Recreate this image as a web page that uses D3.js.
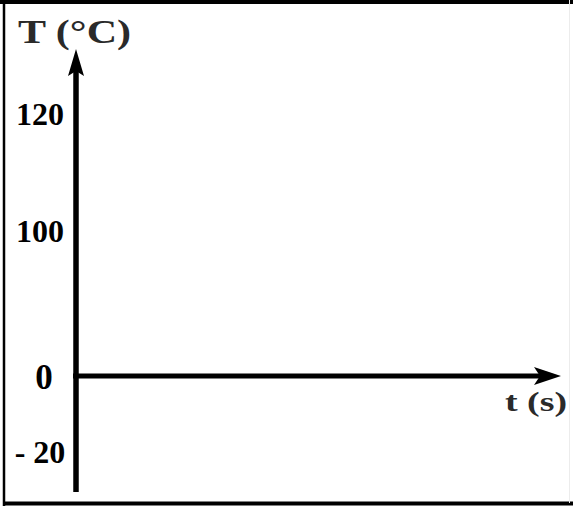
<!DOCTYPE html>
<html>
<head>
<meta charset="utf-8">
<script src="https://cdn.jsdelivr.net/npm/d3@7"></script>
<style>
  html, body { margin: 0; padding: 0; background: #fff; }
  svg { display: block; }
</style>
</head>
<body>
<svg id="chart" width="573" height="509"></svg>
<script>
// ---- data ----
const yTickValues = [-20, 0, 100, 120];
const yTickLabels = ["- 20", "0", "100", "120"];
const yAxisTitle = "T (°C)";
const xAxisTitle = "t (s)";
const yDomainEnds = [-26, 152];   // axis extends slightly below -20 and above 120 (arrow)
const xDomain = [0, 1];

// ---- layout ----
const svg = d3.select("#chart");
const W = 573, H = 509;

// Piecewise (schematic) temperature scale, as drawn in the original sketch
const y = d3.scaleLinear()
  .domain([yDomainEnds[0], -20, 0, 100, 120, yDomainEnds[1]])
  .range([492, 451, 376, 230, 113, 49]);
const x = d3.scaleLinear().domain(xDomain).range([76, 561]);

// frame
svg.append("rect").attr("x", 0).attr("y", 0).attr("width", W).attr("height", H).attr("fill", "#fff");
svg.append("line").attr("x1", 0).attr("x2", W).attr("y1", 2).attr("y2", 2)
  .attr("stroke", "#000").attr("stroke-width", 4);
svg.append("line").attr("x1", 4).attr("x2", 4).attr("y1", 0).attr("y2", 506)
  .attr("stroke", "#000").attr("stroke-width", 2.5);
svg.append("line").attr("x1", 3).attr("x2", W).attr("y1", 503.5).attr("y2", 503.5)
  .attr("stroke", "#000").attr("stroke-width", 4);
svg.append("line").attr("x1", 569.5).attr("x2", 569.5).attr("y1", 0).attr("y2", 503)
  .attr("stroke", "#ececec").attr("stroke-width", 1);

// y axis line with arrow
const x0 = x(0);
svg.append("line")
  .attr("x1", x0).attr("x2", x0)
  .attr("y1", y(yDomainEnds[0])).attr("y2", y(yDomainEnds[1]) + 20)
  .attr("stroke", "#000").attr("stroke-width", 5.5);
const yt = y(yDomainEnds[1]);
svg.append("path")
  .attr("d", `M${x0},${yt} L${x0 + 8},${yt + 27} L${x0},${yt + 22} L${x0 - 8},${yt + 27} Z`)
  .attr("fill", "#000");

// x axis line with arrow
const yz = y(0);
const xt = x(xDomain[1]);
svg.append("line")
  .attr("x1", x0 - 3).attr("x2", xt - 20)
  .attr("y1", yz).attr("y2", yz)
  .attr("stroke", "#000").attr("stroke-width", 5);
svg.append("path")
  .attr("d", `M${xt},${yz} L${xt - 27},${yz - 9} L${xt - 21},${yz} L${xt - 27},${yz + 9} Z`)
  .attr("fill", "#000");

// y tick labels via d3 axis
const yAxis = d3.axisLeft(y)
  .tickValues(yTickValues)
  .tickSize(0)
  .tickPadding(0)
  .tickFormat(d => yTickLabels[yTickValues.indexOf(d)]);
const gy = svg.append("g").attr("transform", "translate(40,0)").call(yAxis);
gy.select(".domain").remove();
gy.selectAll("text")
  .attr("text-anchor", "middle")
  .attr("x", d => d === 0 ? 4 : 0)
  .attr("dy", "0.36em")
  .style("font-family", "'Liberation Serif', 'Times New Roman', serif")
  .style("font-weight", "bold")
  .style("font-size", d => d === 0 ? "35px" : "32px")
  .attr("fill", "#000");

// axis titles
svg.append("text")
  .attr("x", 18).attr("y", 43)
  .attr("textLength", 113).attr("lengthAdjust", "spacingAndGlyphs")
  .style("font-family", "'Liberation Serif', 'Times New Roman', serif")
  .style("font-weight", "bold")
  .style("font-size", "33px")
  .attr("fill", "#2a2a2a")
  .text(yAxisTitle);

svg.append("text")
  .attr("x", 505).attr("y", 411)
  .attr("textLength", 62).attr("lengthAdjust", "spacingAndGlyphs")
  .style("font-family", "'Liberation Serif', 'Times New Roman', serif")
  .style("font-weight", "bold")
  .style("font-size", "27px")
  .attr("fill", "#2a2a2a")
  .text(xAxisTitle);
</script>
</body>
</html>
